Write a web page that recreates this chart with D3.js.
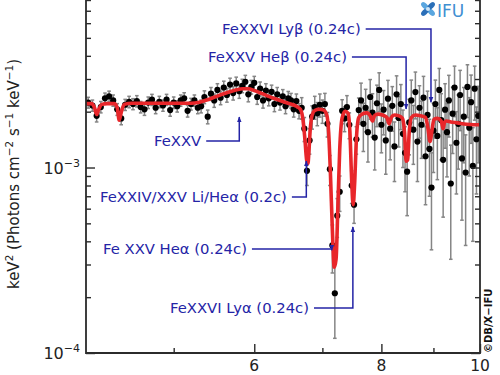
<!DOCTYPE html>
<html>
<head>
<meta charset="utf-8">
<script src="https://cdn.jsdelivr.net/npm/d3@7"></script>
<style>
  body { margin: 0; background: #fff; }
  svg { display: block; font-family: "DejaVu Sans", sans-serif; }
</style>
</head>
<body>
<svg id="spectrum" width="500" height="375"></svg>
<script>
// fluxes below are in units of 1e-3 keV^2 (Photons cm^-2 s^-1 keV^-1)
const fluxUnit = 1e-3;

// best-fit model curve (red)
const modelE = [4.10,4.15,4.18,4.20,4.22,4.25,4.30,4.37,4.40,4.42,4.44,4.47,4.55,4.8,5.0,5.2,5.3,5.4,5.5,5.6,
  5.7,5.8,5.85,5.92,6.0,6.1,6.2,6.3,6.4,6.5,6.6,6.66,6.70,6.73,6.755,6.775,6.79,6.81,6.84,6.88,
  6.95,7.02,7.07,7.10,7.13,7.16,7.19,7.22,7.25,7.28,7.32,7.37,7.42,7.45,7.48,7.505,7.53,7.56,7.60,7.66,
  7.74,7.80,7.84,7.88,7.94,8.02,8.10,8.14,8.18,8.24,8.32,8.39,8.43,8.46,8.49,8.52,8.56,8.64,8.74,8.84,
  8.89,8.93,8.97,9.01,9.08,9.16,9.20,9.23,9.27,9.36,9.5,9.7,9.85,10.0];
const modelF = [2.21,2.21,2.10,1.93,2.06,2.19,2.21,2.21,2.10,1.80,1.98,2.19,2.22,2.22,2.22,2.22,2.25,2.32,2.41,2.50,
  2.58,2.64,2.66,2.66,2.60,2.51,2.42,2.34,2.27,2.21,2.14,2.06,1.80,1.40,1.10,1.05,1.22,1.60,1.92,2.03,
  2.06,2.04,1.92,1.55,0.90,0.46,0.29,0.32,0.62,1.25,1.85,2.01,1.96,1.55,0.85,0.63,0.82,1.42,1.86,1.94,
  1.97,1.90,1.78,1.91,1.94,1.92,1.86,1.72,1.86,1.92,1.90,1.84,1.55,1.08,1.10,1.55,1.86,1.92,1.90,1.86,
  1.62,1.38,1.58,1.82,1.84,1.78,1.62,1.76,1.78,1.76,1.74,1.71,1.70,1.70];

// simulated data points with 1-sigma errors
const dataE = [4.12,4.16,4.20,4.24,4.28,4.32,4.36,4.40,4.44,4.48,4.52,4.56,4.60,4.64,4.68,4.72,4.76,4.80,4.84,4.88,
  4.92,4.96,5.00,5.04,5.08,5.12,5.16,5.20,5.24,5.28,
  5.32,5.36,5.40,5.44,5.48,5.52,5.56,5.60,5.64,5.68,5.72,5.76,5.80,5.84,5.88,5.92,5.96,6.00,6.04,6.08,
  6.12,6.16,6.20,6.24,6.28,6.32,6.36,6.40,6.44,6.48,6.52,6.56,6.60,6.64,
  6.68,6.72,6.76,6.80,6.84,6.88,6.92,6.96,7.00,7.04,7.08,7.12,7.16,7.20,7.24,7.28,7.32,7.36,7.40,7.44,
  7.48,7.52,7.56,7.60,
  7.64,7.68,7.72,7.76,7.80,7.84,7.88,7.92,7.96,8.00,8.04,8.08,8.12,8.16,8.20,8.24,8.28,8.32,8.36,8.40,
  8.44,8.48,8.52,8.56,8.60,8.64,8.68,8.72,8.76,8.80,8.84,8.88,8.92,8.96,9.00,9.04,9.08,9.12,9.16,9.20,
  9.24,9.28,9.32,9.36,9.40,9.44,9.48,9.52,9.56,9.60,9.64,9.68,9.72,9.76,9.80,9.84,9.88,9.92,9.96];
const dataF = [2.24,2.16,1.90,2.12,2.36,2.42,2.30,2.06,1.84,2.18,2.26,2.20,2.28,2.12,2.06,2.24,2.32,2.10,2.26,2.16,
  2.32,2.04,2.24,2.14,2.30,2.36,2.02,2.20,2.30,2.10,
  2.14,2.40,1.88,2.50,2.30,2.62,2.38,2.70,2.46,2.80,2.52,2.84,2.58,2.76,2.90,2.48,2.72,2.86,2.40,2.66,
  2.30,2.60,2.36,2.56,2.20,2.48,2.24,2.42,2.14,2.36,2.30,2.06,2.28,2.02,
  2.10,1.62,0.96,1.40,1.88,2.12,1.96,2.18,2.02,2.20,1.72,0.98,0.38,0.21,0.55,0.74,2.02,1.84,2.12,1.70,
  0.80,0.63,1.42,2.04,
  2.30,1.72,2.10,1.55,2.40,1.98,1.45,2.22,2.62,1.70,2.05,1.40,2.35,1.62,2.15,1.30,2.48,1.85,2.20,1.52,
  1.20,0.95,1.75,2.30,1.60,2.55,1.38,2.10,1.70,2.38,1.15,1.92,1.26,0.78,1.58,2.20,1.48,2.62,1.80,1.10,
  2.05,1.55,2.30,0.82,1.95,2.70,1.36,1.72,2.46,1.12,1.88,0.94,2.72,1.64,2.25,1.02,2.66,1.42,1.90];
const dataErr = [0.15,0.15,0.14,0.15,0.16,0.16,0.16,0.15,0.14,0.15,0.16,0.15,0.16,0.15,0.15,0.16,0.16,0.15,0.16,0.15,
  0.16,0.15,0.16,0.15,0.16,0.17,0.15,0.16,0.16,0.15,
  0.17,0.19,0.16,0.20,0.19,0.21,0.20,0.22,0.21,0.23,0.21,0.23,0.22,0.23,0.24,0.22,0.23,0.24,0.21,0.23,
  0.21,0.23,0.21,0.22,0.20,0.22,0.20,0.21,0.19,0.21,0.21,0.19,0.21,0.19,
  0.28,0.24,0.16,0.22,0.27,0.30,0.28,0.31,0.29,0.31,0.26,0.18,0.11,0.09,0.13,0.16,0.30,0.28,0.32,0.27,
  0.16,0.13,0.24,0.33,
  0.55,0.50,0.54,0.48,0.58,0.52,0.48,0.56,0.62,0.50,0.55,0.48,0.60,0.52,0.58,0.46,0.64,0.56,0.60,0.52,
  0.46,0.40,0.58,0.66,0.56,0.72,0.54,0.66,0.58,0.72,0.52,0.66,0.56,0.42,0.64,0.76,0.62,0.80,0.70,0.56,
  0.78,0.66,0.84,0.50,0.76,0.82,0.64,0.74,0.88,0.60,0.82,0.56,0.86,0.74,0.90,0.62,0.86,0.70,0.84];

// axis ticks
const xMajor = [6, 8, 10];
const xMinor = [5, 7, 9];
const yMajor = [1e-4, 1e-3];
const yMajorExp = ["\u22124", "\u22123"];
const yMinor = [2e-4,3e-4,4e-4,5e-4,6e-4,7e-4,8e-4,9e-4,2e-3,3e-3,4e-3,5e-3,6e-3,7e-3,8e-3];

// line identifications (label, energy keV, flux 1e-3 at arrow tip)
const lineLabels = ["FeXXVI Ly\u03b2 (0.24c)", "FeXXV He\u03b2 (0.24c)", "FeXXV",
  "FeXXIV/XXV Li/He\u03b1 (0.2c)", "Fe XXV He\u03b1 (0.24c)", "FeXXVI Ly\u03b1 (0.24c)"];
const lineE = [8.95, 8.46, 5.80, 6.75, 7.15, 7.50];
const lineF = [2.25, 2.07, 1.87, 1.084, 0.358, 0.478];

const svg = d3.select("#spectrum");
const plotLeft = 86, plotRight = 480, plotTop = 0, plotBottom = 353;
const blue = "#2424a6";
const red = "#e8262a";

const x = d3.scaleLog().domain([4.1, 10]).range([plotLeft, plotRight]);
const y = d3.scaleLog().domain([1e-4, 8e-3]).range([plotBottom, plotTop]);

const defs = svg.append("defs");
defs.append("clipPath").attr("id", "plotclip")
  .append("rect").attr("x", plotLeft).attr("y", plotTop)
  .attr("width", plotRight - plotLeft).attr("height", plotBottom - plotTop);

const points = dataE.map((e, i) => ({ e: e, f: dataF[i] * fluxUnit, err: dataErr[i] * fluxUnit }));
const model = modelE.map((e, i) => ({ e: e, f: modelF[i] * fluxUnit }));

const plot = svg.append("g").attr("clip-path", "url(#plotclip)");

// error bars
const bars = plot.append("g").attr("stroke", "#858585").attr("stroke-width", 1.5);
points.forEach(d => {
  const y1 = y(d.f + d.err);
  const y2 = y(Math.max(d.f - d.err, 5e-5));
  const px = x(d.e);
  bars.append("line").attr("x1", px).attr("x2", px).attr("y1", y1).attr("y2", y2);
  bars.append("line").attr("x1", px - 1.8).attr("x2", px + 1.8).attr("y1", y1).attr("y2", y1);
  bars.append("line").attr("x1", px - 1.8).attr("x2", px + 1.8).attr("y1", y2).attr("y2", y2);
});

plot.append("g").selectAll("circle")
  .data(points)
  .enter()
  .append("circle")
  .attr("cx", d => x(d.e))
  .attr("cy", d => y(d.f))
  .attr("r", 3.1)
  .attr("fill", "#000");

// model
plot.append("path")
  .datum(model)
  .attr("fill", "none")
  .attr("stroke", red)
  .attr("stroke-width", 3.6)
  .attr("stroke-linejoin", "round")
  .attr("d", d3.line().x(d => x(d.e)).y(d => y(d.f)).curve(d3.curveMonotoneX));

// axes with inward ticks
function tickAxis(axis, g, values, size) {
  g.call(axis.tickValues(values).tickSize(-size).tickSizeOuter(0).tickFormat(""));
  g.select(".domain").remove();
  g.selectAll("line").attr("stroke", "#2b2b2b").attr("stroke-width", 1.4);
}
const axes = svg.append("g");
tickAxis(d3.axisLeft(y), axes.append("g").attr("transform", `translate(${plotLeft},0)`), yMajor, 9);
tickAxis(d3.axisLeft(y), axes.append("g").attr("transform", `translate(${plotLeft},0)`), yMinor, 5);
tickAxis(d3.axisRight(y), axes.append("g").attr("transform", `translate(${plotRight},0)`), yMajor, 9);
tickAxis(d3.axisRight(y), axes.append("g").attr("transform", `translate(${plotRight},0)`), yMinor, 5);
tickAxis(d3.axisBottom(x), axes.append("g").attr("transform", `translate(0,${plotBottom})`), xMajor, 9);
tickAxis(d3.axisBottom(x), axes.append("g").attr("transform", `translate(0,${plotBottom})`), xMinor, 5);

axes.append("path")
  .attr("d", `M${plotLeft},${plotTop}V${plotBottom}H${plotRight}V${plotTop}`)
  .attr("fill", "none")
  .attr("stroke", "#2b2b2b")
  .attr("stroke-width", 1.8);

// tick labels
svg.append("g").selectAll("text")
  .data(xMajor)
  .enter()
  .append("text")
  .attr("x", d => x(d))
  .attr("y", 371)
  .attr("text-anchor", "middle")
  .attr("font-size", 15.5)
  .attr("fill", "#222")
  .text(d => d);

yMajor.forEach((v, i) => {
  const t = svg.append("text")
    .attr("x", 80)
    .attr("y", y(v) + 6)
    .attr("text-anchor", "end")
    .attr("font-size", 16)
    .attr("fill", "#222");
  t.append("tspan").text("10");
  t.append("tspan").attr("dy", -7).attr("font-size", 11).text(yMajorExp[i]);
});

// y axis title
const title = svg.append("text")
  .attr("transform", "translate(19,174) rotate(-90)")
  .attr("text-anchor", "middle")
  .attr("font-size", 15)
  .attr("fill", "#222");
const titleParts = [["keV", 0], ["2", 1], [" (Photons cm", 0], ["\u22122", 1], [" s", 0], ["\u22121", 1], [" keV", 0], ["\u22121", 1], [")", 0]];
let raised = false;
titleParts.forEach(p => {
  const ts = title.append("tspan").text(p[0]);
  if (p[1] && !raised) { ts.attr("dy", -6).attr("font-size", 10.5); raised = true; }
  else if (p[1]) { ts.attr("font-size", 10.5); }
  else if (raised) { ts.attr("dy", 6); raised = false; }
});

// line annotations
const labelPos = [[222, 29], [208, 57], [154, 141], [100, 197], [103, 249], [170, 308]];
defs.append("marker")
  .attr("id", "arrowhead")
  .attr("viewBox", "0 0 10 10")
  .attr("refX", 9)
  .attr("refY", 5)
  .attr("markerUnits", "userSpaceOnUse")
  .attr("markerWidth", 6)
  .attr("markerHeight", 6)
  .attr("orient", "auto")
  .append("path")
  .attr("d", "M0,1L10,5L0,9z")
  .attr("fill", blue);

lineLabels.forEach((label, i) => {
  const lx = labelPos[i][0], ly = labelPos[i][1];
  const t = svg.append("text")
    .attr("x", lx)
    .attr("y", ly + 5.2)
    .attr("font-size", 14.8)
    .attr("fill", blue)
    .text(label);
  const end = lx + t.node().getComputedTextLength() + 5;
  const tx = x(lineE[i]), ty = y(lineF[i] * fluxUnit);
  let d = `M${end},${ly}H${tx}`;
  if (Math.abs(ty - ly) > 1) d += `V${ty}`;
  svg.append("path")
    .attr("d", d)
    .attr("fill", "none")
    .attr("stroke", blue)
    .attr("stroke-width", 1.5)
    .attr("marker-end", "url(#arrowhead)");
});

// X-IFU logo
const logo = svg.append("g").attr("transform", "translate(428,9)");
[45, 135, 225, 315].forEach((a, i) => {
  logo.append("ellipse")
    .attr("cx", 4.5).attr("cy", 0).attr("rx", 4.5).attr("ry", 2.6)
    .attr("transform", `rotate(${a})`)
    .attr("fill", i % 2 ? "#2b6fb8" : "#5aa6df");
});
logo.append("circle").attr("r", 2).attr("fill", "#cfe6f7");
svg.append("text")
  .attr("x", 437)
  .attr("y", 17)
  .attr("font-size", 17)
  .attr("fill", "#3f8fd2")
  .text("IFU");

// copyright
svg.append("text")
  .attr("transform", "translate(492,353) rotate(-90)")
  .attr("font-size", 10)
  .attr("font-weight", "bold")
  .attr("fill", "#111")
  .text("\u00a9DB/X\u2212IFU");
</script>
</body>
</html>
